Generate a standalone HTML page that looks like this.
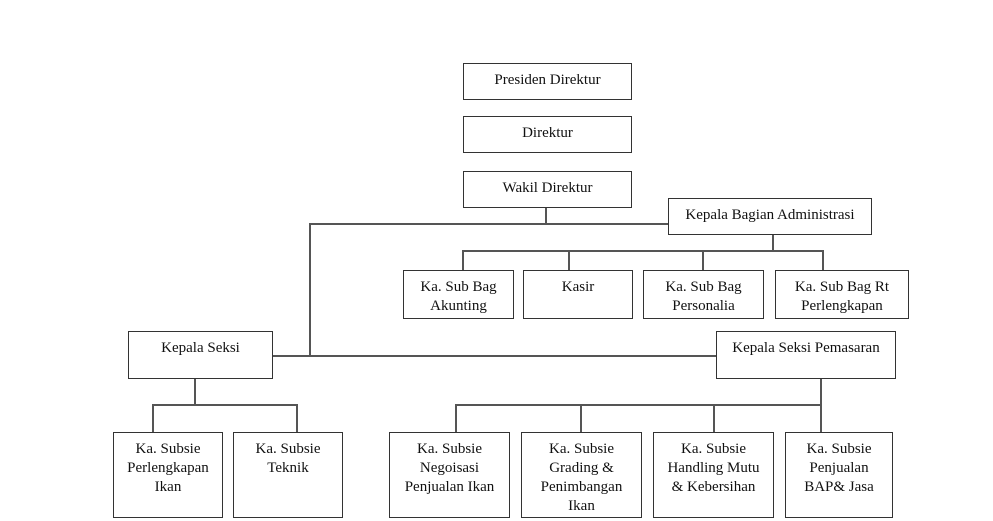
<!DOCTYPE html>
<html><head><style>
body{margin:0;background:#fff;}
.b{position:absolute;border:1.5px solid #333;box-sizing:border-box;font-family:"Liberation Serif",serif;font-size:15px;color:#111;text-align:center;line-height:19px;padding-top:7px;background:#fff}
.l{position:absolute;background:#555}
</style></head><body>
<div style="position:relative;width:993px;height:521px;overflow:hidden">
<div class="l" style="left:545px;top:207px;width:1.5px;height:17px"></div>
<div class="l" style="left:309px;top:223px;width:360px;height:1.5px"></div>
<div class="l" style="left:309px;top:223px;width:1.5px;height:133px"></div>
<div class="l" style="left:272px;top:355px;width:444px;height:1.5px"></div>
<div class="l" style="left:772px;top:234px;width:1.5px;height:17px"></div>
<div class="l" style="left:462px;top:250px;width:361px;height:1.5px"></div>
<div class="l" style="left:462px;top:250px;width:1.5px;height:20px"></div>
<div class="l" style="left:568px;top:250px;width:1.5px;height:20px"></div>
<div class="l" style="left:702px;top:250px;width:1.5px;height:20px"></div>
<div class="l" style="left:822px;top:250px;width:1.5px;height:20px"></div>
<div class="l" style="left:194px;top:378px;width:1.5px;height:27px"></div>
<div class="l" style="left:152px;top:404px;width:145px;height:1.5px"></div>
<div class="l" style="left:152px;top:404px;width:1.5px;height:28px"></div>
<div class="l" style="left:296px;top:404px;width:1.5px;height:28px"></div>
<div class="l" style="left:820px;top:378px;width:1.5px;height:27px"></div>
<div class="l" style="left:455px;top:404px;width:366px;height:1.5px"></div>
<div class="l" style="left:455px;top:404px;width:1.5px;height:28px"></div>
<div class="l" style="left:580px;top:404px;width:1.5px;height:28px"></div>
<div class="l" style="left:713px;top:404px;width:1.5px;height:28px"></div>
<div class="l" style="left:820px;top:404px;width:1.5px;height:28px"></div>

<div class="b" style="left:463px;top:63px;width:169px;height:37px">Presiden Direktur</div>
<div class="b" style="left:463px;top:116px;width:169px;height:37px">Direktur</div>
<div class="b" style="left:463px;top:171px;width:169px;height:37px">Wakil Direktur</div>
<div class="b" style="left:668px;top:198px;width:204px;height:37px">Kepala Bagian Administrasi</div>
<div class="b" style="left:403px;top:270px;width:111px;height:49px">Ka. Sub Bag<br>Akunting</div>
<div class="b" style="left:523px;top:270px;width:110px;height:49px">Kasir</div>
<div class="b" style="left:643px;top:270px;width:121px;height:49px">Ka. Sub Bag<br>Personalia</div>
<div class="b" style="left:775px;top:270px;width:134px;height:49px">Ka. Sub Bag Rt<br>Perlengkapan</div>
<div class="b" style="left:128px;top:331px;width:145px;height:48px">Kepala Seksi</div>
<div class="b" style="left:716px;top:331px;width:180px;height:48px">Kepala Seksi Pemasaran</div>
<div class="b" style="left:113px;top:432px;width:110px;height:86px">Ka. Subsie<br>Perlengkapan<br>Ikan</div>
<div class="b" style="left:233px;top:432px;width:110px;height:86px">Ka. Subsie<br>Teknik</div>
<div class="b" style="left:389px;top:432px;width:121px;height:86px">Ka. Subsie<br>Negoisasi<br>Penjualan Ikan</div>
<div class="b" style="left:521px;top:432px;width:121px;height:86px">Ka. Subsie<br>Grading &amp;<br>Penimbangan<br>Ikan</div>
<div class="b" style="left:653px;top:432px;width:121px;height:86px">Ka. Subsie<br>Handling Mutu<br>&amp; Kebersihan</div>
<div class="b" style="left:785px;top:432px;width:108px;height:86px">Ka. Subsie<br>Penjualan<br>BAP&amp; Jasa</div>
</div>
</body></html>
